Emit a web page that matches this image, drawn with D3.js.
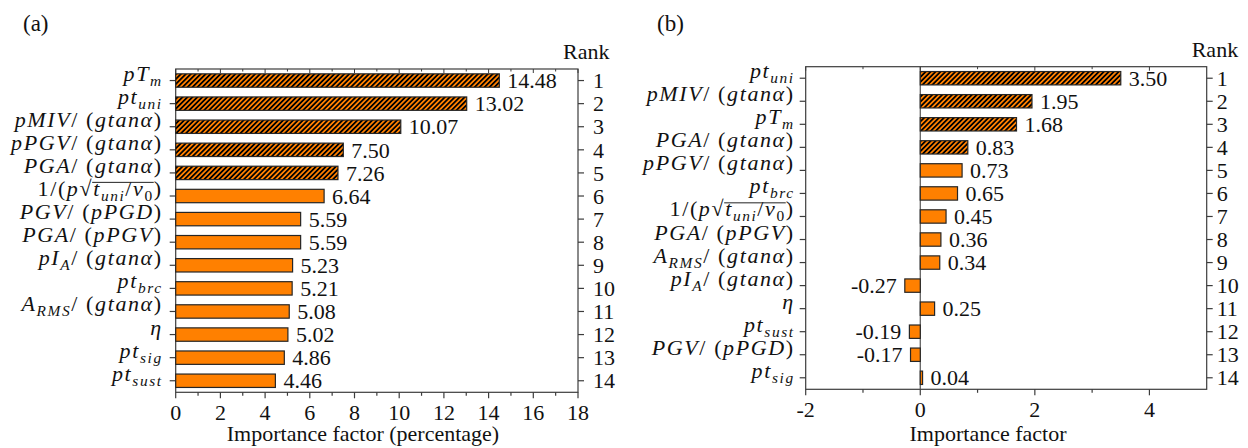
<!DOCTYPE html>
<html>
<head>
<meta charset="utf-8">
<script src="https://cdn.jsdelivr.net/npm/d3@7"></script>
<style>
    body { margin: 0; background: #fff; }
</style>
</head>
<body>
<svg id="chart" width="1248" height="448"></svg>
<script>
/* eslint-env browser */

// panel (a): importance in percent
var labelsA = ["pT_{m}", "pt_{uni}", "pMIV/ (gtanα)", "pPGV/ (gtanα)", "PGA/ (gtanα)",
        "1/(p\\sqrt{t_{uni}/ν_{0}})", "PGV/ (pPGD)", "PGA/ (pPGV)", "pI_{A}/ (gtanα)",
        "pt_{brc}", "A_{RMS}/ (gtanα)", "η", "pt_{sig}", "pt_{sust}"],
    valuesA = [14.48, 13.02, 10.07, 7.50, 7.26, 6.64, 5.59, 5.59, 5.23, 5.21, 5.08, 5.02, 4.86, 4.46],
    ticksA = [0, 2, 4, 6, 8, 10, 12, 14, 16, 18],
    minorTicksA = [1, 3, 5, 7, 9, 11, 13, 15, 17];

// panel (b): raw importance factor
var labelsB = ["pt_{uni}", "pMIV/ (gtanα)", "pT_{m}", "PGA/ (gtanα)", "pPGV/ (gtanα)", "pt_{brc}",
        "1/(p\\sqrt{t_{uni}/ν_{0}})", "PGA/ (pPGV)", "A_{RMS}/ (gtanα)", "pI_{A}/ (gtanα)",
        "η", "pt_{sust}", "PGV/ (pPGD)", "pt_{sig}"],
    valuesB = [3.50, 1.95, 1.68, 0.83, 0.73, 0.65, 0.45, 0.36, 0.34, -0.27, 0.25, -0.19, -0.17, 0.04],
    ticksB = [-2, 0, 2, 4],
    minorTicksB = [-1, 1, 3];

var ranks = [1, 2, 3, 4, 5, 6, 7, 8, 9, 10, 11, 12, 13, 14];

var orange = "#ff8000",
    frameColor = "#3c3c3c",
    serif = "'Liberation Serif'",
    svg = d3.select("#chart");

var defs = svg.append("defs"),
    hatch = defs.append("pattern")
        .attr("id", "hatch")
        .attr("patternUnits", "userSpaceOnUse")
        .attr("width", 3.5)
        .attr("height", 3.5)
        .attr("patternTransform", "rotate(45)");
hatch.append("rect").attr("width", 3.5).attr("height", 3.5).attr("fill", orange);
hatch.append("line")
    .attr("x1", 1.75).attr("y1", -1).attr("x2", 1.75).attr("y2", 5)
    .attr("stroke", "#000").attr("stroke-width", 1.8);

// small text helper so every label gets the serif face
function txt(sel) {
    return sel.append("text").style("font-family", serif).style("fill", "#111");
}

// split a latex-ish label into runs: letters italic, rest upright, _{} subscript, \sqrt{} overlined
function parseLabel(str) {
    var runs = [];

    function push(ch, sub, over) {
        runs.push({ ch: ch, italic: /[A-Za-zα-ω]/.test(ch), sub: sub, over: over });
    }

    function groupEnd(start) {
        var depth = 0, j = start;
        for (; j < str.length; j++) {
            if (str[j] === "{") depth++;
            if (str[j] === "}") { depth--; if (depth === 0) break; }
        }
        return j;
    }

    function walk(from, to, over) {
        var k = from, end;
        while (k < to) {
            if (str.startsWith("\\sqrt", k)) {
                push("√", false, false);
                end = groupEnd(k + 5);
                walk(k + 6, end, true);
                k = end + 1;
            } else if (str[k] === "_") {
                end = groupEnd(k + 1);
                for (var m = k + 2; m < end; m++) push(str[m], true, over);
                k = end + 1;
            } else {
                push(str[k], false, over);
                k++;
            }
        }
    }

    walk(0, str.length, false);
    return runs;
}

function drawLabel(g, str, x, y, size) {
    var runs = parseLabel(str),
        text = txt(g)
            .attr("x", x)
            .attr("y", y)
            .attr("dy", "0.35em")
            .attr("text-anchor", "end")
            .style("font-size", size + "px")
            .style("letter-spacing", "1.6px"),
        shift = 0,
        overFrom = -1, overTo = -1;

    runs.forEach(function (r, idx) {
        var target = r.sub ? 5 : 0;
        text.append("tspan")
            .attr("dy", target - shift)
            .style("font-family", serif)
            .style("font-style", r.italic ? "italic" : "normal")
            .style("font-size", (r.sub ? size * 0.7 : size) + "px")
            .text(r.ch);
        shift = target;
        if (r.over) {
            if (overFrom < 0) overFrom = idx;
            overTo = idx;
        }
    });

    if (overFrom >= 0) {
        var node = text.node(),
            x0 = node.getStartPositionOfChar(overFrom).x - 1,
            x1 = node.getEndPositionOfChar(overTo).x;
        g.append("line")
            .attr("x1", x0).attr("x2", x1)
            .attr("y1", y - size * 0.62).attr("y2", y - size * 0.62)
            .attr("stroke", "#222").attr("stroke-width", 1);
    }
}

function drawPanel(p) {
    var g = svg.append("g"),
        x = d3.scaleLinear().domain(p.domain).range([p.left, p.right]),
        y = d3.scalePoint().domain(d3.range(p.values.length)).range([p.top, p.bottom]).padding(0.5),
        barH = y.step() * 0.58;

    // frame
    g.append("rect")
        .attr("x", p.left).attr("y", p.top)
        .attr("width", p.right - p.left).attr("height", p.bottom - p.top)
        .attr("fill", "none").attr("stroke", frameColor).attr("stroke-width", 1.2);

    if (p.zeroLine) {
        g.append("line")
            .attr("x1", x(0)).attr("x2", x(0)).attr("y1", p.top).attr("y2", p.bottom)
            .attr("stroke", "#555").attr("stroke-width", 1.2);
    }

    // bottom / top ticks
    var tickSets = [[p.ticks, 6, 4], [p.minorTicks, 3.5, 2.5]];
    tickSets.forEach(function (set) {
        g.selectAll(null).data(set[0]).enter().append("line")
            .attr("x1", d => x(d)).attr("x2", d => x(d))
            .attr("y1", p.bottom).attr("y2", p.bottom + set[1])
            .attr("stroke", frameColor).attr("stroke-width", 1.2);
        g.selectAll(null).data(set[0]).enter().append("line")
            .attr("x1", d => x(d)).attr("x2", d => x(d))
            .attr("y1", p.top).attr("y2", p.top + set[2])
            .attr("stroke", frameColor).attr("stroke-width", 1);
    });

    p.ticks.forEach(function (t) {
        txt(g).attr("x", x(t)).attr("y", p.bottom + 28)
            .attr("text-anchor", "middle")
            .style("font-size", "22px")
            .text(t);
    });

    // category ticks left, rank ticks right
    g.selectAll(null).data(p.values).enter().append("line")
        .attr("x1", p.left - 6).attr("x2", p.left)
        .attr("y1", (d, i) => y(i)).attr("y2", (d, i) => y(i))
        .attr("stroke", frameColor).attr("stroke-width", 1.2);
    g.selectAll(null).data(ranks).enter().append("line")
        .attr("x1", p.right).attr("x2", p.right + 6)
        .attr("y1", (d, i) => y(i)).attr("y2", (d, i) => y(i))
        .attr("stroke", frameColor).attr("stroke-width", 1.2);
    ranks.forEach(function (r, i) {
        txt(g).attr("x", p.right + p.rankGap).attr("y", y(i))
            .attr("dy", "0.35em")
            .style("font-size", "22px")
            .text(r);
    });
    txt(g).attr("x", p.right - 15).attr("y", p.top - 10)
        .style("font-size", "22px")
        .text("Rank");

    // bars
    g.selectAll(null).data(p.values).enter().append("rect")
        .attr("x", d => x(Math.min(0, d)))
        .attr("y", (d, i) => y(i) - barH / 2)
        .attr("width", d => Math.abs(x(d) - x(0)))
        .attr("height", barH)
        .attr("fill", (d, i) => i < p.hatched ? "url(#hatch)" : orange)
        .attr("stroke", "#262626").attr("stroke-width", 1.2);

    p.values.forEach(function (v, i) {
        txt(g).attr("x", v < 0 ? x(v) - 8 : x(v) + 8)
            .attr("y", y(i))
            .attr("dy", "0.35em")
            .attr("text-anchor", v < 0 ? "end" : "start")
            .style("font-size", "22px")
            .text(v.toFixed(2));
    });

    p.labels.forEach(function (l, i) {
        drawLabel(g, l, p.left - p.labelGap, y(i), 22);
    });

    txt(g).attr("x", p.titleX).attr("y", 441)
        .attr("text-anchor", "middle")
        .style("font-size", "22px")
        .text(p.title);

    txt(g).attr("x", p.tagX).attr("y", 31)
        .style("font-size", "23px")
        .text(p.tag);
}

drawPanel({
    labels: labelsA, values: valuesA, hatched: 5,
    domain: [0, 18], ticks: ticksA, minorTicks: minorTicksA,
    left: 175.7, right: 578, top: 69, bottom: 392.3,
    rankGap: 15, labelGap: 13, zeroLine: false,
    title: "Importance factor (percentage)", titleX: 363,
    tag: "(a)", tagX: 23
});

drawPanel({
    labels: labelsB, values: valuesB, hatched: 4,
    domain: [-2, 5], ticks: ticksB, minorTicks: minorTicksB,
    left: 805.7, right: 1206.7, top: 66.7, bottom: 389.3,
    rankGap: 10, labelGap: 11, zeroLine: true,
    title: "Importance factor", titleX: 988,
    tag: "(b)", tagX: 657
});
</script>
</body>
</html>
